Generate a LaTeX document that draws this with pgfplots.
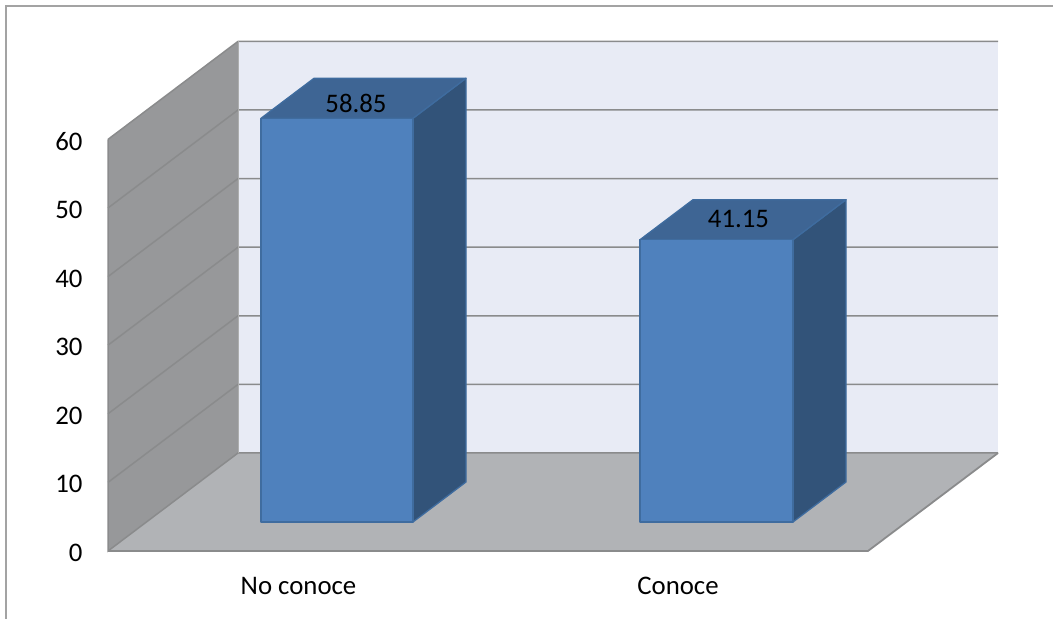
\documentclass[border=0pt]{standalone}
\usepackage{pgfplots}
\usepackage{fontspec}
\pgfplotsset{compat=1.18}
\setmainfont{Carlito}
\definecolor{wallside}{HTML}{97989A}
\definecolor{wallback}{HTML}{E8EBF5}
\definecolor{floorgrey}{HTML}{B1B3B6}
\definecolor{gridgrey}{HTML}{8A8B8C}
\definecolor{framegrey}{HTML}{A3A3A3}
\definecolor{barfront}{HTML}{4F81BD}
\definecolor{bartop}{HTML}{3E6594}
\definecolor{barside}{HTML}{325379}
\definecolor{baredge}{HTML}{3F6C9F}
% Column d says how far a corner lies towards the back wall (1 = one bar depth).
\newcommand{\barbase}{4.227}
\newcommand{\bardepth}{5.831}
\newcommand{\walldepth}{14.286}
\pgfplotsset{
  barface/.style={fill=#1, draw=baredge, line width=1.3bp, line join=round},
  wallface/.style={fill=#1, draw=gridgrey, line width=1bp},
}
\begin{document}
\begin{tikzpicture}
\begin{axis}[
  scale only axis, width=1053bp, height=619bp,
  xmin=0, xmax=1053, ymin=-9.913, ymax=80.32,
  axis line style={draw=none}, tick style={draw=none},
  clip=false,
  ytick={0,10,20,30,40,50,60},
  xtick={298.5,678}, xticklabels={No conoce,Conoce},
  tick label style={font=\fontsize{26.8bp}{31bp}\selectfont},
  /pgf/number format/assume math mode=true,
  yticklabel style={anchor=east, xshift=86bp, yshift=-2bp},
  xticklabel style={anchor=center, yshift=33bp},
]
% outer frame of the chart area
\draw[framegrey, line width=2bp] (axis cs:5.5,-9.913) -- (axis cs:5.5,79.5) -- (axis cs:1053,79.5);

% back wall, side wall and floor
\addplot[wallface=wallback, draw=none] table[row sep=\\, y expr=\thisrow{v}+\walldepth] {x v\\ 238 0\\ 238 60\\ 998 60\\ 998 0\\} -- cycle;
\addplot[wallface=wallside, draw=none] table[row sep=\\, y expr=\thisrow{v}+\walldepth*\thisrow{d}] {x v d\\ 108 0 0\\ 108 60 0\\ 238 60 1\\ 238 0 1\\} -- cycle;
\addplot[wallface=floorgrey, draw=none] table[row sep=\\, y expr=\thisrow{v}+\walldepth*\thisrow{d}] {x v d\\ 108 0 0\\ 868 0 0\\ 998 0 1\\ 238 0 1\\} -- cycle;

% grid lines across both walls
\pgfplotsinvokeforeach{10,20,30,40,50,60}{
  \addplot[gridgrey, line width=1.5bp, mark=none] table[row sep=\\, y expr=\thisrow{v}+\walldepth*\thisrow{d}] {x v d\\ 108 #1 0\\ 238 #1 1\\ 998 #1 1\\};
}
% edges of the floor and the side wall
\addplot[gridgrey, line width=1.5bp, mark=none] table[row sep=\\, y expr=\thisrow{v}+\walldepth*\thisrow{d}] {x v d\\ 108 60 0\\ 108 0 0\\ 238 0 1\\ 998 0 1\\};
\addplot[gridgrey, line width=1.8bp, mark=none] table[row sep=\\, y expr=\thisrow{v}+\walldepth*\thisrow{d}] {x v d\\ 108 0 0\\ 868 0 0\\ 998 0 1\\};
\addplot[gridgrey!70, line width=1bp, mark=none] table[row sep=\\, y expr=\thisrow{v}+\walldepth*\thisrow{d}] {x v d\\ 238 0 1\\ 238 60 1\\};

% bar "No conoce"
\addplot[barface=barside] table[row sep=\\, y expr=\thisrow{v}+\barbase+\bardepth*\thisrow{d}] {x v d\\ 413 0 0\\ 466 0 1\\ 466 58.85 1\\ 413 58.85 0\\} -- cycle;
\addplot[barface=bartop] table[row sep=\\, y expr=\thisrow{v}+\barbase+\bardepth*\thisrow{d}] {x v d\\ 261 58.85 0\\ 314 58.85 1\\ 466 58.85 1\\ 413 58.85 0\\} -- cycle;
\addplot[barface=barfront] table[row sep=\\, y expr=\thisrow{v}+\barbase] {x v\\ 261 0\\ 261 58.85\\ 413 58.85\\ 413 0\\} -- cycle;

% bar "Conoce"
\addplot[barface=barside] table[row sep=\\, y expr=\thisrow{v}+\barbase+\bardepth*\thisrow{d}] {x v d\\ 793 0 0\\ 846 0 1\\ 846 41.15 1\\ 793 41.15 0\\} -- cycle;
\addplot[barface=bartop] table[row sep=\\, y expr=\thisrow{v}+\barbase+\bardepth*\thisrow{d}] {x v d\\ 640 41.15 0\\ 693 41.15 1\\ 846 41.15 1\\ 793 41.15 0\\} -- cycle;
\addplot[barface=barfront] table[row sep=\\, y expr=\thisrow{v}+\barbase] {x v\\ 640 0\\ 640 41.15\\ 793 41.15\\ 793 0\\} -- cycle;

% value labels on the top faces
\addplot[draw=none, mark=none, point meta=explicit symbolic,
  nodes near coords, nodes near coords align={anchor=center},
  every node near coord/.append style={font=\fontsize{26.8bp}{31bp}\selectfont, black, inner sep=0pt}]
  table[row sep=\\, meta=v, y expr=\thisrow{v}+\barbase+\thisrow{o}] {x v o\\ 356 58.85 2.2\\ 738.5 41.15 3.0\\};
\end{axis}
% the page is exactly the axis box
\pgfresetboundingbox
\path[use as bounding box] (current axis.south west) rectangle (current axis.north east);
\end{tikzpicture}
\end{document}
